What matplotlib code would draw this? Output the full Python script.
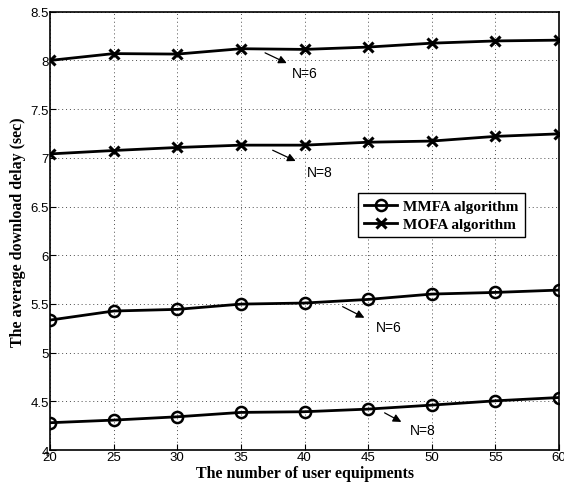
import matplotlib
matplotlib.use('Agg')
import matplotlib.pyplot as plt

# number of user equipments
ue = [20, 25, 30, 35, 40, 45, 50, 55, 60]

# average download delay (sec)
mofa_n6 = [8.00, 8.07, 8.065, 8.12, 8.113, 8.137, 8.177, 8.20, 8.208]
mofa_n8 = [7.04, 7.075, 7.106, 7.13, 7.13, 7.16, 7.172, 7.22, 7.246]
mmfa_n6 = [5.334, 5.427, 5.444, 5.498, 5.509, 5.546, 5.601, 5.618, 5.642]
mmfa_n8 = [4.28, 4.307, 4.341, 4.386, 4.393, 4.42, 4.461, 4.505, 4.539]

xticks = [20, 25, 30, 35, 40, 45, 50, 55, 60]
yticks = [4, 4.5, 5, 5.5, 6, 6.5, 7, 7.5, 8, 8.5]
ytick_labels = ['4', '4.5', '5', '5.5', '6', '6.5', '7', '7.5', '8', '8.5']

fig = plt.figure(figsize=(5.64, 4.89), dpi=100)
ax = fig.add_axes([0.0887, 0.0777, 0.9025, 0.8963])

lw = 2.0
ax.plot(ue, mmfa_n6, '-o', color='black', lw=lw, ms=8, mfc='none', mew=1.8,
        label='MMFA algorithm')
ax.plot(ue, mofa_n6, '-x', color='black', lw=lw, ms=6.5, mew=2.2,
        label='MOFA algorithm')
ax.plot(ue, mofa_n8, '-x', color='black', lw=lw, ms=6.5, mew=2.2)
ax.plot(ue, mmfa_n8, '-o', color='black', lw=lw, ms=8, mfc='none', mew=1.8)

# N=... annotations with arrows
notes = [
    ('N=6', (36.7, 8.09), (38.8, 7.96), (39.0, 7.87)),
    ('N=8', (37.3, 7.09), (39.5, 6.955), (40.2, 6.85)),
    ('N=6', (42.8, 5.485), (44.9, 5.345), (45.6, 5.265)),
    ('N=8', (46.1, 4.395), (47.8, 4.275), (48.3, 4.21)),
]
for txt, tail, head, pos in notes:
    ax.annotate('', xy=head, xytext=tail,
                arrowprops=dict(arrowstyle='-|>', color='black', lw=0.9,
                                mutation_scale=12))
    ax.text(pos[0], pos[1], txt, fontsize=10, family='Liberation Sans',
            va='center', ha='left')

ax.set_xlim(20, 60)
ax.set_ylim(4, 8.5)
ax.set_xticks(xticks)
ax.set_yticks(yticks)
ax.set_yticklabels(ytick_labels)
ax.tick_params(axis='both', labelsize=9.5, direction='in', length=4, pad=1)
for lab in ax.get_xticklabels() + ax.get_yticklabels():
    lab.set_family('Liberation Sans')
ax.grid(True, linestyle=(0, (1, 3)), color='black', lw=0.7, alpha=0.7)
for sp in ax.spines.values():
    sp.set_linewidth(1.2)

ax.set_xlabel('The number of user equipments', fontsize=11.5,
              family='Liberation Serif', fontweight='bold', labelpad=1)
ax.set_ylabel('The average download delay (sec)', fontsize=11.5,
              family='Liberation Serif', fontweight='bold', labelpad=3)

leg = ax.legend(loc='upper right', bbox_to_anchor=(0.933, 0.586),
                borderaxespad=0,
                prop={'family': 'Liberation Serif', 'weight': 'bold', 'size': 11},
                fancybox=False, edgecolor='black', framealpha=1,
                handlelength=2.2, borderpad=0.4, labelspacing=0.3,
                handletextpad=0.4)
leg.get_frame().set_linewidth(1.0)

fig.savefig('out.png', dpi=100)
